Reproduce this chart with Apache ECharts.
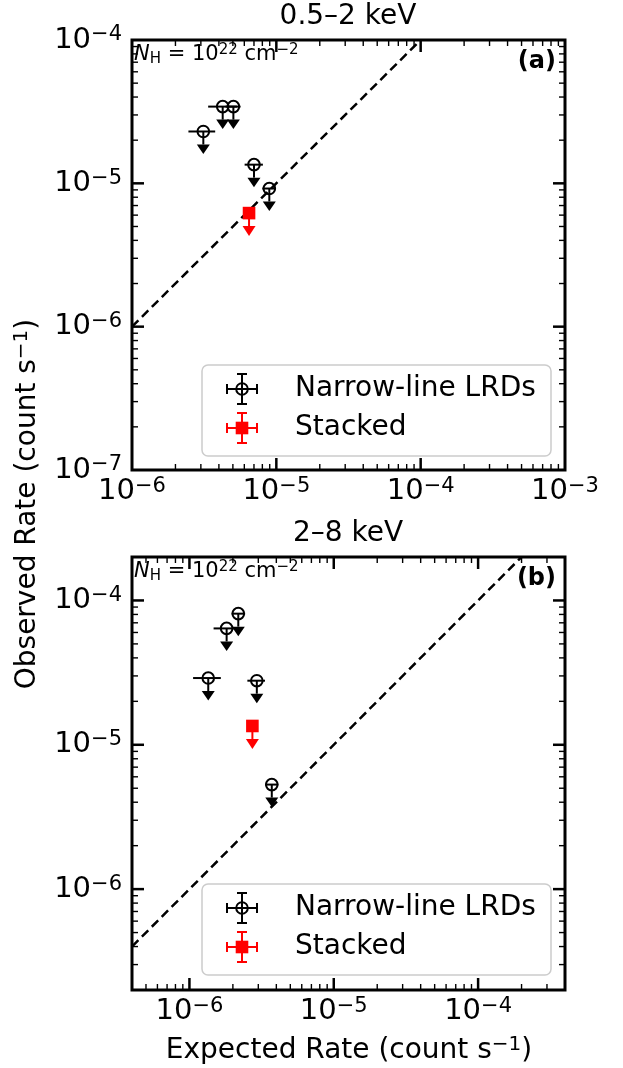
<!DOCTYPE html>
<html>
<head>
<meta charset="utf-8">
<script src="https://cdn.jsdelivr.net/npm/echarts@6/dist/echarts.min.js"></script>
<style>
  html, body { margin: 0; padding: 0; background: #fff; }
  #chart { width: 623px; height: 1068px; }
</style>
</head>
<body>
<div id="chart"></div>
<script>
// ---- 0.5–2 keV band: narrow-line LRD upper limits ----
const softExp   = [3.12e-6, 4.25e-6, 5.04e-6, 7.0e-6, 8.94e-6];
const softExpLo = [2.46e-6, 3.37e-6, 4.45e-6, 6.03e-6, 8.0e-6];
const softExpHi = [3.77e-6, 5.33e-6, 5.65e-6, 8.07e-6, 9.9e-6];
const softObs   = [2.30e-5, 3.43e-5, 3.43e-5, 1.35e-5, 9.2e-6];
const softStackExp = [6.47e-6];
const softStackObs = [6.2e-6];

// ---- 2–8 keV band ----
const hardExp   = [2.18e-6, 1.81e-6, 1.35e-6, 2.93e-6, 3.72e-6];
const hardExpLo = [1.96e-6, 1.47e-6, 1.06e-6, 2.52e-6, 3.34e-6];
const hardExpHi = [2.43e-6, 2.24e-6, 1.65e-6, 3.34e-6, 4.13e-6];
const hardObs   = [8.1e-5, 6.4e-5, 2.9e-5, 2.78e-5, 5.3e-6];
const hardStackExp = [2.73e-6];
const hardStackObs = [1.35e-5];

// axis ranges and the one-to-one reference line ends
const softRangeX = [1e-6, 1e-3];
const softRangeY = [1e-7, 1e-4];
const hardRangeX = [4e-7, 4e-4];
const hardRangeY = [2e-7, 2e-4];
const softOneToOne = [1e-6, 1e-4];
const hardOneToOne = [4e-7, 2e-4];

const panelTitles = ['0.5–2 keV', '2–8 keV'];
const panelTags = ['(a)', '(b)'];
const legendNames = ['Narrow-line LRDs', 'Stacked'];

const FONT = 'DejaVu Sans';
const RED = '#ff0000';

const chart = echarts.init(document.getElementById('chart'), null, { renderer: 'canvas' });

// "10^n" tick labels, only at whole decades
const powRich = {
  b: { fontFamily: FONT, fontSize: 29, lineHeight: 31, color: '#000' },
  s: { fontFamily: FONT, fontSize: 21, lineHeight: 16, verticalAlign: 'top', color: '#000' }
};
function powLabel(v) {
  const lg = Math.log10(v);
  const e = Math.round(lg);
  if (Math.abs(lg - e) > 1e-6) return '';
  return '{b|10}{s|' + (e < 0 ? '\u2212' : '') + Math.abs(e) + '}';
}

// major + minor tick positions for a log range
function decadeTicks(lo, hi) {
  const out = [];
  for (let e = Math.floor(Math.log10(lo)) - 1; e <= Math.ceil(Math.log10(hi)); e++) {
    for (let m = 1; m <= 9; m++) {
      const v = m * Math.pow(10, e);
      if (v > lo * 1.0001 && v < hi / 1.0001) out.push([v, m === 1 ? 1 : 0]);
    }
  }
  return out;
}
function tickItems(rx, ry) {
  const items = [];
  decadeTicks(rx[0], rx[1]).forEach(t => items.push([t[0], ry[0] * 2, 0, t[1]]));
  decadeTicks(ry[0], ry[1]).forEach(t => items.push([rx[0] * 2, t[0], 1, t[1]]));
  return items;
}
function renderTicks(params, api) {
  const cs = params.coordSys;
  const kind = api.value(2), major = api.value(3);
  const len = major ? 12 : 6;
  const st = { stroke: '#000', lineWidth: major ? 2.5 : 1.4 };
  const p = api.coord([api.value(0), api.value(1)]);
  if (kind === 0) {
    const x = p[0], b = cs.y + cs.height;
    return { type: 'group', children: [
      { type: 'line', shape: { x1: x, y1: b, x2: x, y2: b - len }, style: st },
      { type: 'line', shape: { x1: x, y1: cs.y, x2: x, y2: cs.y + len }, style: st }
    ]};
  }
  const y = p[1], r = cs.x + cs.width;
  return { type: 'group', children: [
    { type: 'line', shape: { x1: cs.x, y1: y, x2: cs.x + len, y2: y }, style: st },
    { type: 'line', shape: { x1: r, y1: y, x2: r - len, y2: y }, style: st }
  ]};
}

// upper-limit marker: open circle, horizontal x-error, downward arrow
function renderLimit(params, api) {
  const c = api.coord([api.value(0), api.value(3)]);
  const lo = api.coord([api.value(1), api.value(3)]);
  const hi = api.coord([api.value(2), api.value(3)]);
  const st = { stroke: '#000', lineWidth: 2, fill: null };
  return { type: 'group', children: [
    { type: 'line', shape: { x1: lo[0], y1: c[1], x2: hi[0], y2: c[1] }, style: st },
    { type: 'line', shape: { x1: c[0], y1: c[1], x2: c[0], y2: c[1] + 13 }, style: st },
    { type: 'polygon', shape: { points: [[c[0] - 6.5, c[1] + 13], [c[0] + 6.5, c[1] + 13], [c[0], c[1] + 22.5]] }, style: { fill: '#000' } },
    { type: 'circle', shape: { cx: c[0], cy: c[1], r: 5.8 }, style: { stroke: '#000', lineWidth: 2, fill: null } }
  ]};
}
// stacked upper limit: filled red square with downward arrow
function renderStack(params, api) {
  const c = api.coord([api.value(0), api.value(1)]);
  return { type: 'group', children: [
    { type: 'line', shape: { x1: c[0], y1: c[1], x2: c[0], y2: c[1] + 13 }, style: { stroke: RED, lineWidth: 2 } },
    { type: 'polygon', shape: { points: [[c[0] - 6.5, c[1] + 13], [c[0] + 6.5, c[1] + 13], [c[0], c[1] + 23]] }, style: { fill: RED } },
    { type: 'rect', shape: { x: c[0] - 6.3, y: c[1] - 6.3, width: 12.6, height: 12.6 }, style: { fill: RED } }
  ]};
}

function zip4(a, b, c, d) { return a.map((v, i) => [v, b[i], c[i], d[i]]); }
function zip2(a, b) { return a.map((v, i) => [v, b[i]]); }

const grids = [
  { left: 132, top: 40, width: 433, height: 430 },
  { left: 132, top: 557, width: 433, height: 433 }
];
const ranges = [[softRangeX, softRangeY], [hardRangeX, hardRangeY]];

function xAxisCfg(i) {
  return {
    type: 'log', logBase: 10, gridIndex: i, min: ranges[i][0][0], max: ranges[i][0][1],
    axisLine: { show: false }, axisTick: { show: false }, splitLine: { show: false },
    axisLabel: { margin: 6, formatter: powLabel, rich: powRich }
  };
}
function yAxisCfg(i) {
  return {
    type: 'log', logBase: 10, gridIndex: i, min: ranges[i][1][0], max: ranges[i][1][1],
    axisLine: { show: false }, axisTick: { show: false }, splitLine: { show: false },
    axisLabel: { margin: 10, formatter: powLabel, rich: powRich }
  };
}

const series = [];
[[softExp, softExpLo, softExpHi, softObs, softStackExp, softStackObs, softOneToOne],
 [hardExp, hardExpLo, hardExpHi, hardObs, hardStackExp, hardStackObs, hardOneToOne]].forEach((d, i) => {
  series.push({
    type: 'custom', xAxisIndex: i, yAxisIndex: i, silent: true, z: 1,
    encode: { x: 0, y: 1 }, renderItem: renderTicks,
    data: tickItems(ranges[i][0], ranges[i][1])
  });
  series.push({
    type: 'line', xAxisIndex: i, yAxisIndex: i, z: 2, silent: true,
    showSymbol: false, symbol: 'none',
    lineStyle: { color: '#000', width: 2.5, type: [9, 5] },
    data: d[6].map(v => [v, v])
  });
  series.push({
    type: 'custom', name: legendNames[0], xAxisIndex: i, yAxisIndex: i, z: 3,
    encode: { x: [0, 1, 2], y: 3 }, renderItem: renderLimit,
    data: zip4(d[0], d[1], d[2], d[3])
  });
  series.push({
    type: 'custom', name: legendNames[1], xAxisIndex: i, yAxisIndex: i, z: 4,
    encode: { x: 0, y: 1 }, renderItem: renderStack,
    data: zip2(d[4], d[5])
  });
});

// legend drawn as a framed box with error-bar glyphs
function legendBox(top) {
  const cx = 242, y1 = top + 24, y2 = top + 63, h = 15, cap = 5;
  function bars(cy, color) {
    const st = { stroke: color, lineWidth: 2 };
    return [
      { type: 'line', shape: { x1: cx - h, y1: cy, x2: cx + h, y2: cy }, style: st },
      { type: 'line', shape: { x1: cx, y1: cy - h, x2: cx, y2: cy + h }, style: st },
      { type: 'line', shape: { x1: cx - h, y1: cy - cap, x2: cx - h, y2: cy + cap }, style: st },
      { type: 'line', shape: { x1: cx + h, y1: cy - cap, x2: cx + h, y2: cy + cap }, style: st },
      { type: 'line', shape: { x1: cx - cap, y1: cy - h, x2: cx + cap, y2: cy - h }, style: st },
      { type: 'line', shape: { x1: cx - cap, y1: cy + h, x2: cx + cap, y2: cy + h }, style: st }
    ];
  }
  const txt = { fontFamily: FONT, fontSize: 28, fill: '#000', verticalAlign: 'middle', align: 'left' };
  return {
    type: 'group', z: 100,
    children: [
      { type: 'rect', shape: { x: 202, y: top, width: 349, height: 91, r: 6 },
        style: { fill: 'rgba(255,255,255,0.8)', stroke: '#cccccc', lineWidth: 1.5 } }
    ].concat(bars(y1, '#000'), [
      { type: 'circle', shape: { cx: cx, cy: y1, r: 5.8 }, style: { stroke: '#000', lineWidth: 2, fill: null } }
    ], bars(y2, RED), [
      { type: 'rect', shape: { x: cx - 6.3, y: y2 - 6.3, width: 12.6, height: 12.6 }, style: { fill: RED } },
      { type: 'text', x: 295, y: y1, style: Object.assign({ text: legendNames[0] }, txt) },
      { type: 'text', x: 295, y: y2, style: Object.assign({ text: legendNames[1] }, txt) }
    ])
  };
}

const nhRich = {
  i: { fontFamily: FONT, fontSize: 21, fontStyle: 'italic', lineHeight: 24 },
  sub: { fontFamily: FONT, fontSize: 15, lineHeight: 14, verticalAlign: 'bottom' },
  n: { fontFamily: FONT, fontSize: 21, lineHeight: 24 },
  sup: { fontFamily: FONT, fontSize: 15, lineHeight: 12, verticalAlign: 'top' }
};
const nhText = '{i|N}{sub|H}{n| = 10}{sup|22}{n| cm}{sup|\u22122}';

const labelRich = {
  n: { fontFamily: FONT, fontSize: 28, lineHeight: 32 },
  s: { fontFamily: FONT, fontSize: 20, lineHeight: 16, verticalAlign: 'top' }
};

const graphics = [
  { type: 'text', x: 348, y: 17, style: { text: panelTitles[0], fontFamily: FONT, fontSize: 28, fill: '#000', align: 'center', verticalAlign: 'middle' } },
  { type: 'text', x: 348, y: 534, style: { text: panelTitles[1], fontFamily: FONT, fontSize: 28, fill: '#000', align: 'center', verticalAlign: 'middle' } },
  { type: 'text', x: 134, y: 55, z: 50, style: { text: nhText, rich: nhRich, fill: '#000', align: 'left', verticalAlign: 'middle' } },
  { type: 'text', x: 134, y: 572, z: 50, style: { text: nhText, rich: nhRich, fill: '#000', align: 'left', verticalAlign: 'middle' } },
  { type: 'text', x: 556, y: 62, z: 50, style: { text: panelTags[0], fontFamily: FONT, fontSize: 24, fontWeight: 'bold', fill: '#000', align: 'right', verticalAlign: 'middle' } },
  { type: 'text', x: 556, y: 579, z: 50, style: { text: panelTags[1], fontFamily: FONT, fontSize: 24, fontWeight: 'bold', fill: '#000', align: 'right', verticalAlign: 'middle' } },
  { type: 'text', x: 349, y: 1051, style: { text: '{n|Expected Rate (count s}{s|\u22121}{n|)}', rich: labelRich, fill: '#000', align: 'center', verticalAlign: 'middle' } },
  { type: 'text', x: 28, y: 504, rotation: Math.PI / 2, style: { text: '{n|Observed Rate (count s}{s|\u22121}{n|)}', rich: labelRich, fill: '#000', align: 'center', verticalAlign: 'middle' } },
  legendBox(365),
  legendBox(884)
];

chart.setOption({
  animation: false,
  backgroundColor: '#fff',
  textStyle: { fontFamily: FONT },
  grid: grids.map(g => Object.assign({ show: true, borderColor: '#000', borderWidth: 3, backgroundColor: 'transparent', containLabel: false }, g)),
  xAxis: [xAxisCfg(0), xAxisCfg(1)],
  yAxis: [yAxisCfg(0), yAxisCfg(1)],
  series: series,
  graphic: graphics
});
</script>
</body>
</html>
